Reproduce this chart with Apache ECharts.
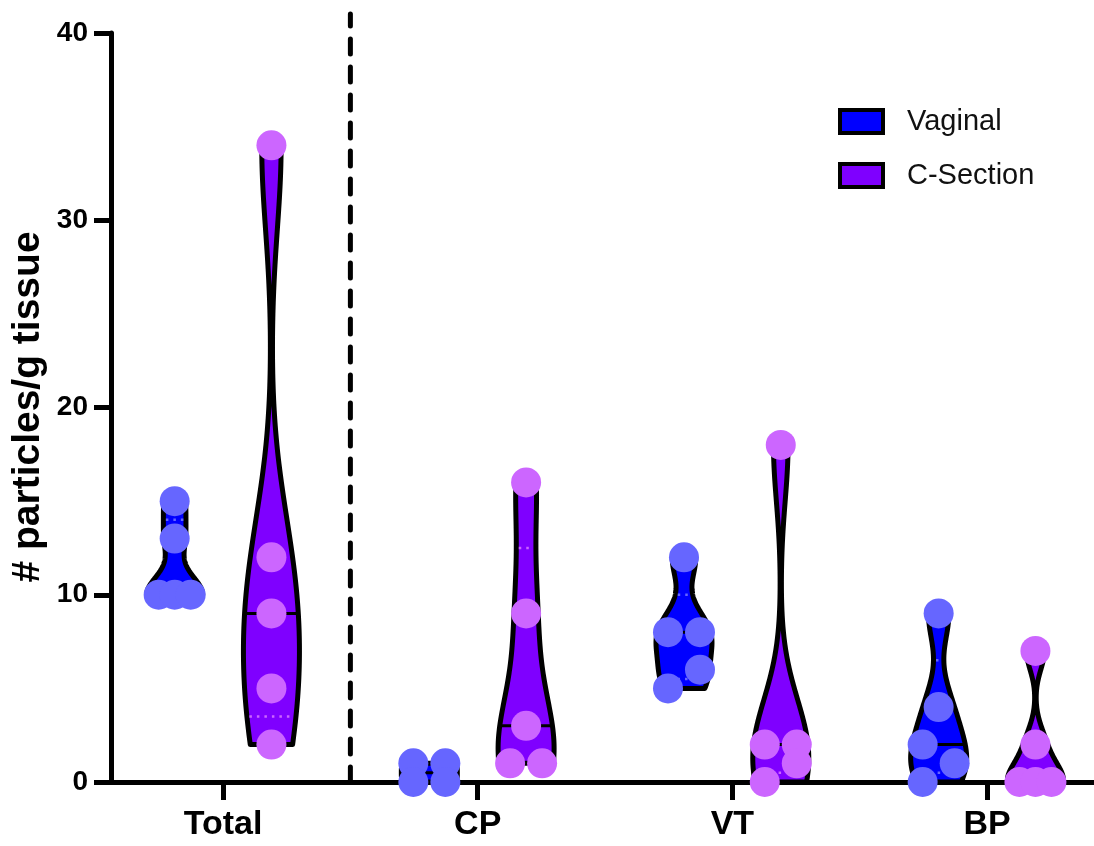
<!DOCTYPE html>
<html>
<head>
<meta charset="utf-8">
<script src="https://cdn.jsdelivr.net/npm/echarts@6/dist/echarts.min.js"></script>
<style>
html,body{margin:0;padding:0;background:#fff;}
#chart{width:1094px;height:846px;}
</style>
</head>
<body>
<div id="chart"></div>
<script>
// ---------- data ----------
const categories = ['Total', 'CP', 'VT', 'BP'];
const vaginal = [
  [15, 13, 10, 10, 10],
  [1, 1, 0, 0],
  [12, 8, 8, 6, 5],
  [9, 4, 2, 1, 0]
];
const cSection = [
  [34, 12, 9, 5, 2],
  [16, 9, 3, 1, 1],
  [18, 2, 2, 1, 0],
  [7, 2, 0, 0, 0]
];
const yTicks = [0, 10, 20, 30, 40];
const seriesNames = ['Vaginal', 'C-Section'];
// kernel bandwidths (smoothing) estimated from the violin shapes
const bwVaginal = [1.0, 0.5, 1.2, 1.5];
const bwCSection = [4.5, 3, 3, 1.0];

// ---------- styling / layout ----------
const FILL = ['#0000FF', '#7F00FF'];
const DOT = ['#6666FF', '#CC66FF'];
const GROUP_OFFSET = 0.19;   // axis units from category centre
const HALF_W = 28;           // px, max half width of a violin
const DOT_R = 15;            // px
const SWARM_STEP = 16;       // px
const FONT = 'Liberation Sans, Arial, Helvetica, sans-serif';

function quantile(sorted, p) {
  const n = sorted.length;
  const pos = p * (n + 1);
  if (pos <= 1) return sorted[0];
  if (pos >= n) return sorted[n - 1];
  const lo = Math.floor(pos), f = pos - lo;
  return sorted[lo - 1] + f * (sorted[lo] - sorted[lo - 1]);
}
function kde(vals, h, y) {
  let s = 0;
  for (const v of vals) { const z = (y - v) / h; s += Math.exp(-0.5 * z * z); }
  return s;
}
function swarmSlots(vals) {
  const idx = vals.map((v, i) => i).sort((a, b) => vals[a] - vals[b]);
  const slots = new Array(vals.length).fill(0);
  let chain = [idx[0]];
  const flush = () => {
    const n = chain.length;
    if (n === 1) { slots[chain[0]] = 0; return; }
    const allEq = chain.every(i => vals[i] === vals[chain[0]]);
    chain.forEach((id, k) => {
      if (allEq) slots[id] = (n % 2) ? k - (n - 1) / 2 : (k - (n - 1) / 2) * 2;
      else slots[id] = (k % 2 === 0) ? -1 : 1;
    });
  };
  for (let k = 1; k < idx.length; k++) {
    if (vals[idx[k]] - vals[idx[k - 1]] < 1.5) chain.push(idx[k]);
    else { flush(); chain = [idx[k]]; }
  }
  flush();
  return slots;
}

function violinRender(groupData, bw, s, offset) {
  return function (params, api) {
    const ci = api.value(0);
    const vals = groupData[ci].slice().sort((a, b) => a - b);
    const lo = vals[0], hi = vals[vals.length - 1];
    const h = bw[ci];
    const N = 160;
    const ys = [], ds = [];
    for (let i = 0; i <= N; i++) {
      const y = lo + (hi - lo) * i / N;
      ys.push(y); ds.push(kde(vals, h, y));
    }
    const dmax = Math.max.apply(null, ds);
    const cx = api.coord([ci + offset, 0])[0];
    const left = [], right = [];
    for (let i = 0; i <= N; i++) {
      const py = api.coord([ci + offset, ys[i]])[1];
      const w = ds[i] / dmax * HALF_W;
      left.push([cx - w, py]);
      right.push([cx + w, py]);
    }
    const pts = left.concat(right.reverse());
    const widthAt = y => kde(vals, h, y) / dmax * HALF_W;
    const children = [{
      type: 'polygon', shape: { points: pts },
      style: { fill: FILL[s], stroke: '#000', lineWidth: 5, lineJoin: 'round' }
    }];
    const q1 = quantile(vals, 0.25), q3 = quantile(vals, 0.75), med = quantile(vals, 0.5);
    [q1, q3].forEach(q => {
      if (q > lo && q < hi) {
        const py = api.coord([ci + offset, q])[1];
        const w = widthAt(q) - 2.5;
        if (w > 1) children.push({
          type: 'line', shape: { x1: cx - w, y1: py, x2: cx + w, y2: py },
          style: { stroke: DOT[s], lineWidth: 2.5, lineDash: [2.5, 5] }
        });
      }
    });
    {
      const py = api.coord([ci + offset, med])[1];
      const w = widthAt(med) + 1;
      children.push({
        type: 'line', shape: { x1: cx - w, y1: py, x2: cx + w, y2: py },
        style: { stroke: '#000', lineWidth: 3 }
      });
    }
    return { type: 'group', children: children };
  };
}

function dotRender(s, offset) {
  return function (params, api) {
    const p = api.coord([api.value(0) + offset, api.value(1)]);
    return {
      type: 'circle',
      shape: { cx: p[0] + api.value(2) * SWARM_STEP, cy: p[1], r: DOT_R },
      style: { fill: DOT[s] }
    };
  };
}

function dotData(groupData) {
  const out = [];
  groupData.forEach((vals, ci) => {
    const slots = swarmSlots(vals);
    vals.forEach((v, j) => out.push([ci, v, slots[j]]));
  });
  return out;
}

const groups = [vaginal, cSection];
const bws = [bwVaginal, bwCSection];
const offsets = [-GROUP_OFFSET, GROUP_OFFSET];

const series = [];
// divider between Total and the parts
series.push({
  type: 'custom', silent: true, z: 1, clip: false,
  data: [[0.5, 0]], encode: { x: 0, y: 1 },
  renderItem: function (params, api) {
    const p0 = api.coord([api.value(0), 0]);
    const p1 = api.coord([api.value(0), yTicks[yTicks.length - 1]]);
    return {
      type: 'line', shape: { x1: p0[0], y1: p0[1], x2: p1[0], y2: p1[1] - 19 },
      style: { stroke: '#000', lineWidth: 5, lineDash: [15, 13], lineCap: 'round' }
    };
  }
});
[0, 1].forEach(s => {
  series.push({
    name: seriesNames[s], type: 'custom', z: 2, clip: false,
    itemStyle: { color: FILL[s] },
    data: categories.map((c, i) => [i, 0]), encode: { x: 0, y: 1 },
    renderItem: violinRender(groups[s], bws[s], s, offsets[s])
  });
});
[0, 1].forEach(s => {
  series.push({
    name: seriesNames[s], type: 'custom', z: 3, clip: false,
    data: dotData(groups[s]), encode: { x: 0, y: 1 },
    renderItem: dotRender(s, offsets[s])
  });
});

const chart = echarts.init(document.getElementById('chart'), null, { renderer: 'canvas' });
chart.setOption({
  animation: false,
  backgroundColor: '#fff',
  grid: { left: 111, right: 0, top: 33, bottom: 64, containLabel: false },
  xAxis: {
    type: 'value', min: -0.44, max: 3.42,
    axisLine: { show: true, onZero: false, lineStyle: { color: '#000', width: 5 } },
    axisTick: { show: true, customValues: [0, 1, 2, 3], length: 18, lineStyle: { color: '#000', width: 5 } },
    axisLabel: {
      show: true, customValues: [0, 1, 2, 3],
      formatter: v => categories[Math.round(v)],
      fontSize: 34, fontWeight: 'bold', color: '#000', margin: 26, fontFamily: FONT
    },
    splitLine: { show: false }
  },
  yAxis: {
    type: 'value', min: yTicks[0], max: yTicks[yTicks.length - 1], interval: 10,
    axisLine: { show: true, onZero: false, lineStyle: { color: '#000', width: 5 } },
    axisTick: { show: true, length: 17, lineStyle: { color: '#000', width: 5 } },
    axisLabel: { fontSize: 28, fontWeight: 'bold', color: '#000', margin: 23, fontFamily: FONT },
    splitLine: { show: false }
  },
  graphic: [
    {
      type: 'text', x: 28, y: 407, rotation: Math.PI / 2,
      style: {
        text: '# particles/g tissue', fill: '#000', align: 'center', verticalAlign: 'middle',
        font: 'bold 39px ' + FONT
      }
    },
    { type: 'rect', shape: { x: 840, y: 110, width: 43, height: 23 },
      style: { fill: FILL[0], stroke: '#000', lineWidth: 4 } },
    { type: 'text', x: 907, y: 122,
      style: { text: seriesNames[0], fill: '#111', verticalAlign: 'middle', font: '29px ' + FONT } },
    { type: 'rect', shape: { x: 840, y: 164, width: 43, height: 23 },
      style: { fill: FILL[1], stroke: '#000', lineWidth: 4 } },
    { type: 'text', x: 907, y: 176,
      style: { text: seriesNames[1], fill: '#111', verticalAlign: 'middle', font: '29px ' + FONT } }
  ],
  series: series
});
</script>
</body>
</html>
